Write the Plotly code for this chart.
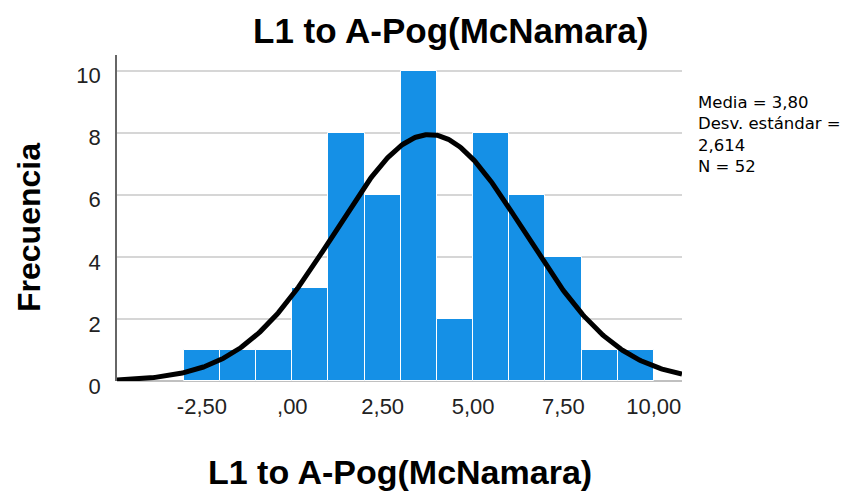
import numpy as np
import plotly.graph_objects as go

# Data
bin_left = [-3, -2, -1, 0, 1, 2, 3, 4, 5, 6, 7, 8, 9]
counts = [1, 1, 1, 3, 8, 6, 10, 2, 8, 6, 4, 1, 1]
bin_width = 1.0
mean_val = 3.80
sd_val = 2.614
n_val = 52
x_tickvals = [-2.5, 0, 2.5, 5, 7.5, 10]
x_ticktext = ["-2,50", ",00", "2,50", "5,00", "7,50", "10,00"]
y_tickvals = [0, 2, 4, 6, 8, 10]
title_text = "L1 to A-Pog(McNamara)"
ytitle_text = "Frecuencia"
stats_text = "Media = 3,80<br>Desv. estándar =<br>2,614<br>N = 52"

x_range = [-4.85, 10.78]
y_range = [0, 10.5]

centers = [b + bin_width / 2 for b in bin_left]

fig = go.Figure()
fig.add_trace(go.Bar(
    x=centers, y=counts, width=[bin_width] * len(counts),
    marker=dict(color="#1590e6", line=dict(color="#ffffff", width=1)),
    hoverinfo="skip", showlegend=False,
))

xs = np.linspace(x_range[0], x_range[1], 400)
ys = n_val * bin_width / (sd_val * np.sqrt(2 * np.pi)) * np.exp(-0.5 * ((xs - mean_val) / sd_val) ** 2)
fig.add_trace(go.Scatter(x=xs, y=ys, mode="lines", line=dict(color="black", width=5),
                         hoverinfo="skip", showlegend=False))

font_family = "Liberation Sans, Arial, sans-serif"
L, R, T, B = 117, 181, 55, 112
PW = 863 - L - R
fig.update_layout(
    width=863, height=493,
    margin=dict(l=L, r=R, t=T, b=B),
    paper_bgcolor="white", plot_bgcolor="white",
    bargap=0,
    font=dict(family=font_family, color="black"),
    xaxis=dict(range=x_range, tickvals=x_tickvals, ticktext=x_ticktext,
               showgrid=False, zeroline=False, showline=False, ticks="",
               tickfont=dict(size=22, color="#222222"), ticklabelstandoff=10),
    yaxis=dict(range=y_range, tickvals=y_tickvals, showgrid=True, gridcolor="#d6d6d6",
               gridwidth=2, zeroline=True, zerolinecolor="#c0c0c0", zerolinewidth=2,
               showline=True, linecolor="#666666", linewidth=1.5, ticks="",
               tickfont=dict(size=22, color="#222222"), ticklabelstandoff=10,
               ticklabelshift=5),
    annotations=[
        dict(text="<b>" + title_text + "</b>", xref="paper", yref="paper", x=(450.5 - L) / PW, y=1,
             xanchor="center", yanchor="bottom", showarrow=False, yshift=3,
             font=dict(size=35, family=font_family, color="black")),
        dict(text="<b>" + title_text + "</b>", xref="paper", yref="paper", x=0.5, y=0,
             xanchor="center", yanchor="top", showarrow=False, yshift=-70,
             font=dict(size=34, family=font_family, color="black")),
        dict(text="<b>" + ytitle_text + "</b>", xref="paper", yref="paper", x=0, y=0.5,
             xanchor="right", yanchor="middle", showarrow=False, xshift=-68, yshift=-10,
             textangle=-90,
             font=dict(size=32, family=font_family, color="black")),
        dict(text=stats_text, xref="paper", yref="paper", x=1, y=(381 - 91) / 326,
             xanchor="left", yanchor="top", showarrow=False, xshift=14, align="left",
             font=dict(size=16.5, family="DejaVu Sans, sans-serif", color="black")),
    ],
)

fig.write_html("out.html")
